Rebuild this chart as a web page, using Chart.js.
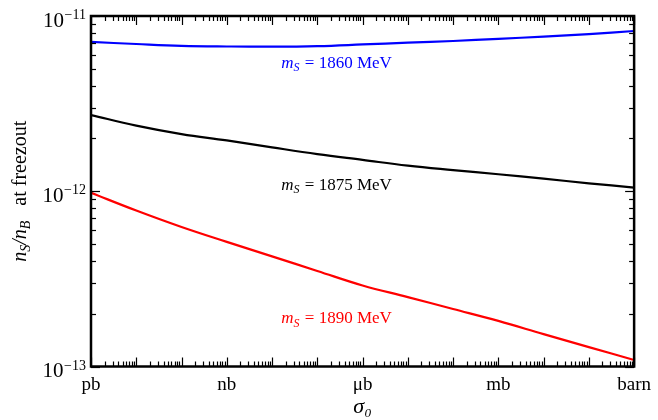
<!DOCTYPE html>
<html><head><meta charset="utf-8">
<script src="https://cdn.jsdelivr.net/npm/chart.js@4.4.0/dist/chart.umd.min.js"></script>
<style>html,body{margin:0;padding:0;background:#fff}</style>
</head><body>
<canvas id="c" width="658" height="420"></canvas>
<script>
// ---- data (sigma0 in barn) ----
const sigma0 = [1e-12,1e-11,1e-10,1e-9,1e-8,1e-7,1e-6,1e-5,1e-4,1e-3,1e-2,1e-1,1];
const ratio1860 = [7.11e-12,6.92e-12,6.76e-12,6.70e-12,6.68e-12,6.73e-12,6.88e-12,7.05e-12,7.20e-12,7.41e-12,7.63e-12,7.89e-12,8.21e-12];
const ratio1875 = [2.72e-12,2.37e-12,2.12e-12,1.95e-12,1.78e-12,1.63e-12,1.51e-12,1.40e-12,1.32e-12,1.25e-12,1.18e-12,1.11e-12,1.05e-12];
const ratio1890 = [0.98e-12,7.76e-13,6.25e-13,5.14e-13,4.25e-13,3.51e-13,2.90e-13,2.49e-13,2.13e-13,1.82e-13,1.53e-13,1.29e-13,1.09e-13];
const massesMeV = [1860,1875,1890];
const xTickValues = [1e-12,1e-9,1e-6,1e-3,1];
const xTickLabels = ['pb','nb','μb','mb','barn'];
const yTickExponents = [-13,-12,-11];

// ---- styling / placement ----
const FONT = "'Liberation Serif','DejaVu Serif',serif";
const colors = ['#0000ff','#000000','#ff0000'];
const labelAnchorX = 1.6e-8;                 // left edge of curve labels (data units)
const labelAnchorY = [5.05e-12,1.02e-12,1.77e-13]; // baselines (data units)

const series = [ratio1860, ratio1875, ratio1890];
const datasets = series.map((arr,i)=>({
  label: 'm_S = '+massesMeV[i]+' MeV',
  data: sigma0.map((s,j)=>({x:s,y:arr[j]})),
  borderColor: colors[i], borderWidth: 2.2, pointRadius: 0,
  fill:false, tension:0.4
}));

function seg(ctx,x1,y1,x2,y2){ctx.beginPath();ctx.moveTo(x1,y1);ctx.lineTo(x2,y2);ctx.stroke();}

const framePlugin = {
  id:'frame',
  afterDatasetsDraw(chart){
    const {ctx, chartArea:a, scales:{x,y}} = chart;
    ctx.save();
    ctx.strokeStyle='#000';
    ctx.lineWidth=1.2;
    for(let e=-12;e<=0;e++){
      for(let m=1;m<=9;m++){
        if(e===0 && m>1) break;
        const px = Math.round(x.getPixelForValue(m*Math.pow(10,e)))+0.5;
        const L = m===1?9:5;
        seg(ctx,px,a.bottom,px,a.bottom-L);
        seg(ctx,px,a.top,px,a.top+L);
      }
    }
    for(let e=-13;e<=-11;e++){
      for(let m=1;m<=9;m++){
        if(e===-11 && m>1) break;
        const py = Math.round(y.getPixelForValue(m*Math.pow(10,e)))+0.5;
        const L = m===1?9:5;
        seg(ctx,a.left,py,a.left+L,py);
        seg(ctx,a.right,py,a.right-L,py);
      }
    }
    ctx.lineWidth=2.5;
    ctx.strokeRect(a.left,a.top,a.right-a.left,a.bottom-a.top);
    ctx.restore();
  },
  afterDraw(chart){
    const {ctx, chartArea:a, scales:{x,y}} = chart;
    ctx.save();
    ctx.fillStyle='#000';
    ctx.textBaseline='alphabetic';
    yTickExponents.forEach(e=>{
      const py = y.getPixelForValue(Math.pow(10,e));
      const xr = a.left-5;
      const sup = '\u2212'+Math.abs(e);
      ctx.font = '14px '+FONT;
      const sw = ctx.measureText(sup).width;
      ctx.textAlign='left';
      ctx.fillText(sup, xr-sw, py+3);
      ctx.font = '21px '+FONT;
      ctx.textAlign='right';
      ctx.fillText('10', xr-sw-0.5, py+10.5);
    });
    const parts = [
      {t:'n',f:'italic 20px '+FONT,dy:0},
      {t:'S',f:'italic 14px '+FONT,dy:4},
      {t:'/',f:'italic 20px '+FONT,dy:0},
      {t:'n',f:'italic 20px '+FONT,dy:0},
      {t:'B',f:'italic 14px '+FONT,dy:4},
      {t:'   at freezout',f:'20px '+FONT,dy:0}
    ];
    let total=0;
    parts.forEach(p=>{ctx.font=p.f;p.w=ctx.measureText(p.t).width;total+=p.w;});
    ctx.translate(26,(a.top+a.bottom)/2);
    ctx.rotate(-Math.PI/2);
    let cx=-total/2;
    ctx.textAlign='left';
    parts.forEach(p=>{ctx.font=p.f;ctx.fillText(p.t,cx,p.dy);cx+=p.w;});
    ctx.setTransform(1,0,0,1,0,0);
    massesMeV.forEach((mv,i)=>{
      let px = x.getPixelForValue(labelAnchorX);
      const py = y.getPixelForValue(labelAnchorY[i]);
      ctx.fillStyle = colors[i];
      ctx.textAlign='left';
      ctx.font='italic 17px '+FONT; ctx.fillText('m',px,py); px+=ctx.measureText('m').width;
      ctx.font='italic 12px '+FONT; ctx.fillText('S',px,py+3.5); px+=ctx.measureText('S').width;
      ctx.font='17px '+FONT; ctx.fillText(' = '+mv+' MeV',px+1,py);
    });
    ctx.restore();
  }
};

new Chart(document.getElementById('c'),{
  type:'line',
  data:{datasets},
  options:{
    responsive:false, animation:false, devicePixelRatio:1,
    layout:{padding:{left:0,right:21,top:16,bottom:0}},
    plugins:{legend:{display:false},tooltip:{enabled:false}},
    scales:{
      x:{
        type:'logarithmic', min:1e-12, max:1, position:'bottom',
        grid:{display:false,drawTicks:false}, border:{display:false},
        afterBuildTicks:(s)=>{s.ticks = xTickValues.map(v=>({value:v}));},
        ticks:{
          autoSkip:false, maxRotation:0, color:'#000', padding:7,
          font:{family:FONT,size:19},
          callback:(v)=>{const i=xTickValues.findIndex(t=>Math.abs(Math.log10(t)-Math.log10(v))<1e-6);return i>=0?xTickLabels[i]:'';}
        },
        title:{display:true,text:'σ₀',color:'#000',font:{family:FONT,size:22,style:'italic'},padding:{top:0,bottom:0}},
        afterFit:(s)=>{s.height=53.5;}
      },
      y:{
        type:'logarithmic', min:1e-13, max:1e-11,
        grid:{display:false,drawTicks:false}, border:{display:false},
        ticks:{display:false},
        afterFit:(s)=>{s.width=91;}
      }
    }
  },
  plugins:[framePlugin]
});
</script>
</body></html>
